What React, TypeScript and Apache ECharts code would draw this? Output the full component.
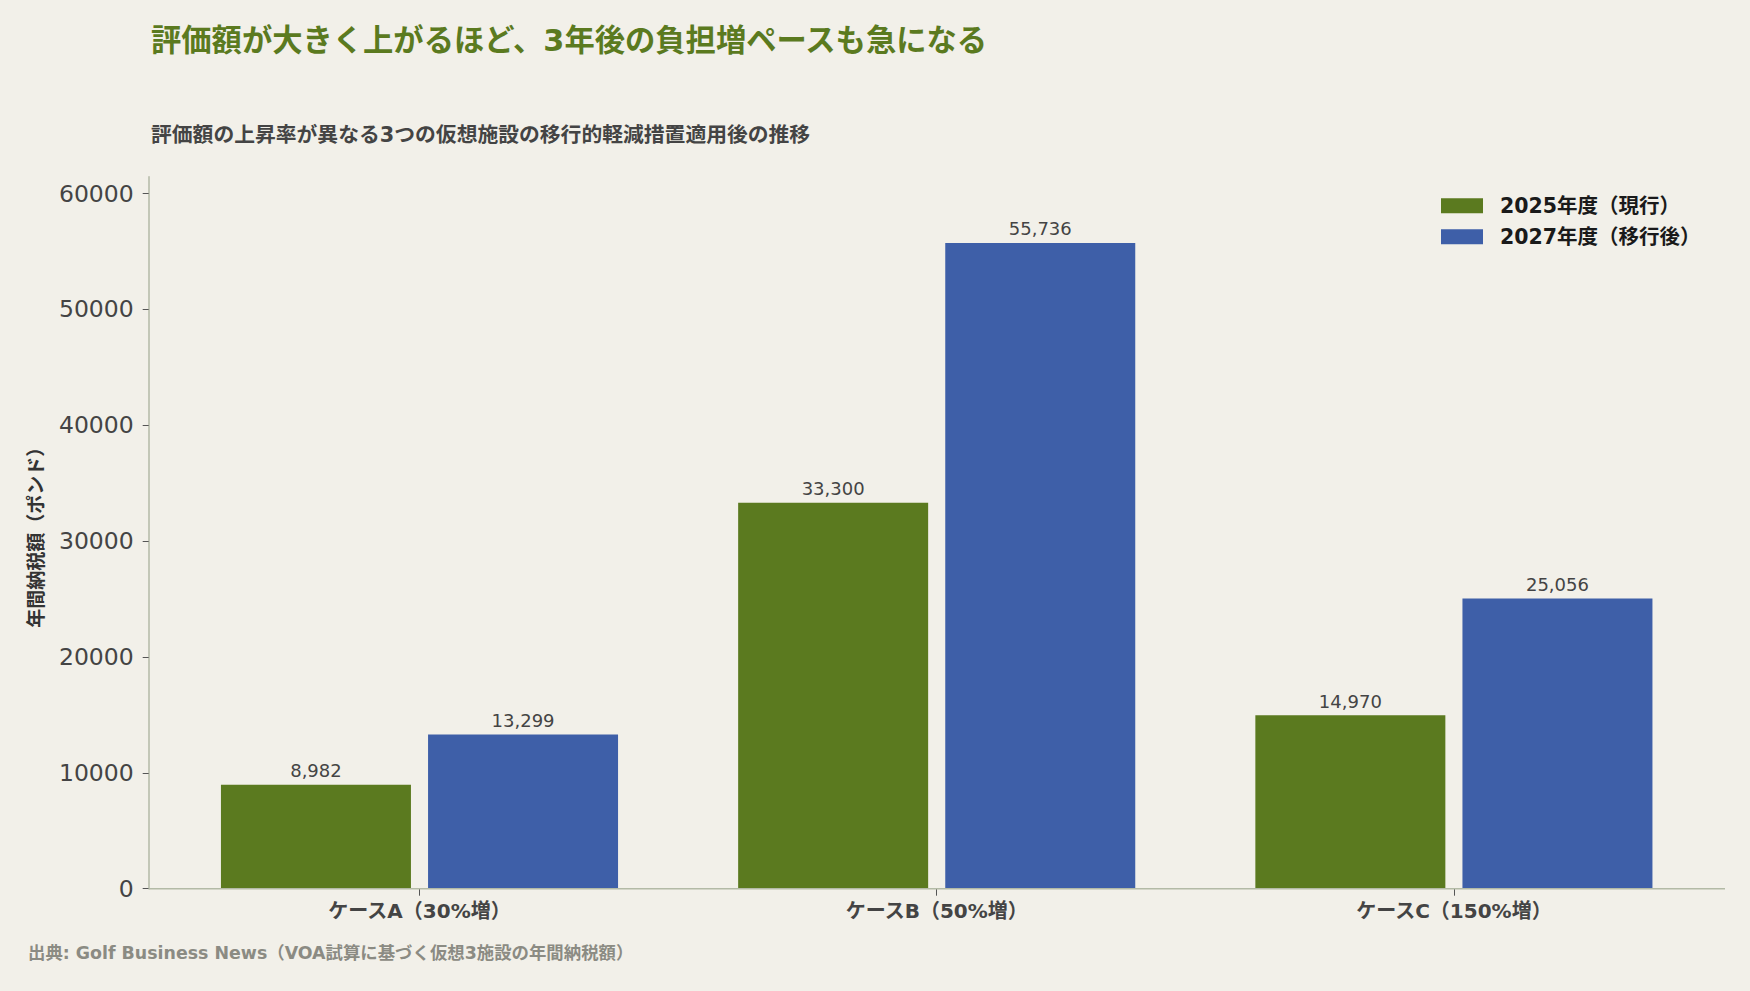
import * as echarts from "echarts"
import { useEffect, useRef } from "react"

const categories = ["ケースA（30%増）", "ケースB（50%増）", "ケースC（150%増）"]
const seriesNames = ["2025年度（現行）", "2027年度（移行後）"]
const values2025 = [8982, 33300, 14970]
const values2027 = [13299, 55736, 25056]
const yTicks = [0, 10000, 20000, 30000, 40000, 50000, 60000]

const FONT = "'DejaVu Sans', 'Noto Sans CJK JP', sans-serif"
const BG = "#f2f0e9"
const GREEN = "#5b7a1f"
const BLUE = "#3e5fa8"
const AXIS = "#b3baa6"

export default function App(): React.ReactElement {
  const ref = useRef<HTMLDivElement>(null)

  useEffect(() => {
    const node = ref.current
    if (!node) return
    const chart = echarts.init(node, undefined, { renderer: "svg", width: 1750, height: 991 })

    const label = {
      show: true,
      position: "top" as const,
      distance: 5,
      fontFamily: FONT,
      fontSize: 18,
      color: "#444",
      formatter: (p: any) => Number(p.value).toLocaleString("en-US"),
    }

    chart.setOption({
      animation: false,
      backgroundColor: BG,
      textStyle: { fontFamily: FONT },
      title: [
        {
          text: "評価額が大きく上がるほど、3年後の負担増ペースも急になる",
          left: 151,
          top: 25,
          padding: 0,
          textStyle: { fontFamily: FONT, fontSize: 30.3, fontWeight: "bold", color: GREEN, lineHeight: 30 },
        },
        {
          text: "評価額の上昇率が異なる3つの仮想施設の移行的軽減措置適用後の推移",
          left: 151,
          top: 124.5,
          padding: 0,
          textStyle: { fontFamily: FONT, fontSize: 20.8, fontWeight: "bold", color: "#444", lineHeight: 21 },
        },
        {
          text: "出典: Golf Business News（VOA試算に基づく仮想3施設の年間納税額）",
          left: 28,
          top: 944,
          padding: 0,
          textStyle: { fontFamily: FONT, fontSize: 17.4, fontWeight: "bold", color: "#8b8b83", lineHeight: 17 },
        },
      ],
      legend: {
        orient: "vertical",
        left: 1441,
        top: 195.5,
        padding: 0,
        itemWidth: 42,
        itemHeight: 15,
        itemGap: 10.5,
        icon: "rect",
        data: seriesNames,
        textStyle: {
          fontFamily: FONT,
          fontSize: 20.5,
          fontWeight: "bold",
          color: "#1a1a1a",
          lineHeight: 15,
          padding: [0, 0, 0, 12],
        },
      },
      grid: { left: 160.9, right: 37.5, top: 176.7, bottom: 102.3 },
      xAxis: {
        type: "category",
        data: categories,
        axisLine: { show: false },
        axisTick: { show: true, alignWithLabel: true, length: 7, lineStyle: { color: "#555" } },
        axisLabel: {
          margin: 12,
          fontFamily: FONT,
          fontSize: 20,
          fontWeight: "bold",
          color: "#444",
        },
      },
      yAxis: {
        type: "value",
        min: 0,
        max: 61450,
        offset: 12.2,
        name: "年間納税額（ポンド）",
        nameLocation: "middle",
        nameRotate: 90,
        nameGap: 103,
        nameTextStyle: { fontFamily: FONT, fontSize: 19, fontWeight: "bold", color: "#333" },
        axisLine: { show: true, lineStyle: { color: AXIS, width: 1.5 } },
        axisTick: { show: true, length: 6, customValues: yTicks, lineStyle: { color: "#555" } },
        axisLabel: {
          margin: 15,
          customValues: yTicks,
          fontFamily: FONT,
          fontSize: 23.5,
          color: "#444",
          formatter: (v: number) => String(v),
        },
        splitLine: { show: false },
      },
      graphic: [
        {
          type: "line",
          z: 100,
          shape: { x1: 148.7, y1: 888.7, x2: 1725, y2: 888.7 },
          style: { stroke: AXIS, lineWidth: 1.5 },
        },
      ],
      series: [
        {
          name: seriesNames[0],
          type: "bar",
          data: values2025,
          barWidth: 190,
          barGap: "9%",
          itemStyle: { color: GREEN },
          label,
        },
        {
          name: seriesNames[1],
          type: "bar",
          data: values2027,
          barWidth: 190,
          barGap: "9%",
          itemStyle: { color: BLUE },
          label,
        },
      ],
    })

    return () => chart.dispose()
  }, [])

  return (
    <div style={{ position: "fixed", left: 0, top: 0, width: 1750, height: 991, background: BG }}>
      <div ref={ref} style={{ width: 1750, height: 991 }} />
    </div>
  )
}
